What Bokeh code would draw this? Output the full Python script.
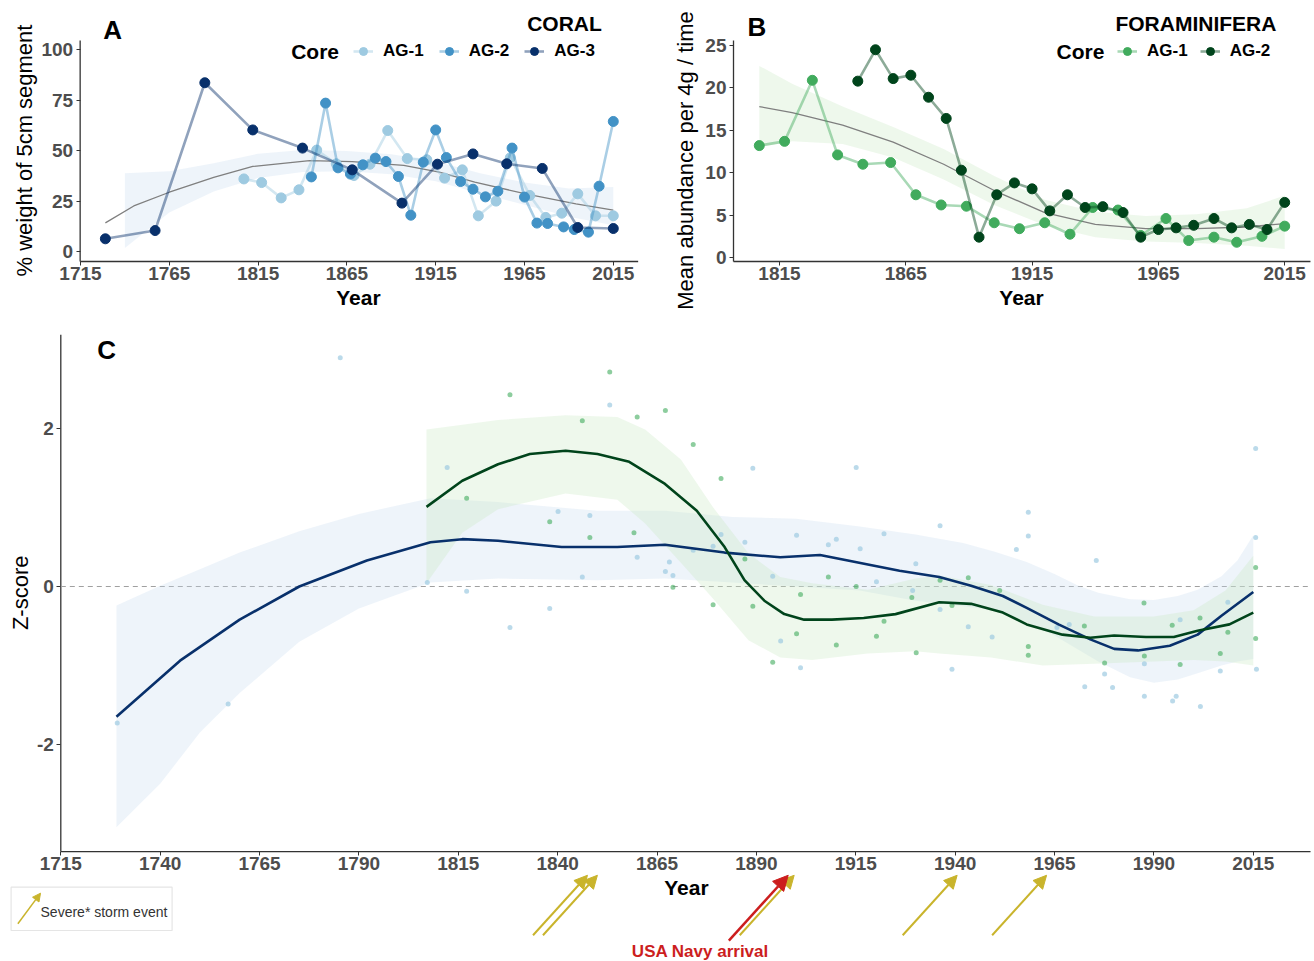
from bokeh.plotting import figure
from bokeh.layouts import column, row
from bokeh.models import Range1d, FixedTicker, Label, Arrow, NormalHead, BoxAnnotation
from bokeh.embed import file_html
from bokeh.resources import INLINE

FONT = "Liberation Sans"

# ---------------- Panel A: coral (% weight of 5cm segment) ----------------
a1_year = [1807, 1817, 1828, 1838, 1848, 1859, 1869, 1878, 1888, 1899, 1910, 1920, 1930, 1939, 1949, 1957, 1968, 1977, 1986, 1995, 2005, 2015]
a1_val = [36.0, 34.2, 26.6, 30.6, 50.3, 43.5, 37.7, 43.3, 60.0, 46.1, 45.5, 36.4, 40.5, 17.7, 25.0, 46.5, 27.8, 16.9, 19.0, 28.6, 17.7, 17.7]
a2_year = [1845, 1853, 1860, 1867, 1874, 1881, 1887, 1894, 1901, 1908, 1915, 1921, 1929, 1936, 1943, 1950, 1958, 1965, 1972, 1978, 1987, 1993, 2001, 2007, 2015]
a2_val = [37.0, 73.6, 41.5, 38.4, 43.0, 46.3, 44.6, 37.2, 18.0, 44.3, 60.3, 46.6, 34.7, 30.9, 27.1, 29.9, 51.3, 27.0, 14.1, 13.9, 12.2, 10.9, 9.6, 32.4, 64.5]
a3_year = [1729, 1757, 1785, 1812, 1840, 1868, 1896, 1916, 1936, 1955, 1975, 1995, 2015]
a3_val = [6.3, 10.4, 83.7, 60.3, 51.3, 40.5, 24.0, 43.3, 48.4, 43.5, 41.2, 11.9, 11.4]
a_fit_year = [1729, 1745, 1765, 1790, 1812, 1844, 1868, 1897, 1917, 1937, 1967, 1994, 2015]
a_fit_val = [14.2, 22.6, 29.4, 36.8, 42.2, 45.1, 44.6, 42.7, 39.4, 34.4, 28.3, 23.6, 20.5]
a_band_year = [1740, 1765, 1790, 1815, 1840, 1865, 1890, 1915, 1940, 1965, 1990, 2015]
a_band_lo = [1.8, 19.4, 29.8, 36.5, 39.4, 39.8, 38.3, 34.8, 28.8, 23.2, 17.2, 13.0]
a_band_hi = [38.8, 39.8, 43.8, 48.5, 50.4, 49.8, 48.3, 44.8, 38.8, 34.2, 31.2, 32.0]
a_xticks = [1715, 1765, 1815, 1865, 1915, 1965, 2015]
a_yticks = [0, 25, 50, 75, 100]

# ---------------- Panel B: foraminifera ----------------
b1_year = [1807, 1817, 1828, 1838, 1848, 1859, 1869, 1879, 1889, 1900, 1910, 1920, 1930, 1939, 1949, 1958, 1968, 1977, 1987, 1996, 2006, 2015]
b1_val = [13.2, 13.7, 20.9, 12.1, 11.0, 11.2, 7.4, 6.2, 6.05, 4.1, 3.4, 4.1, 2.75, 5.9, 5.6, 2.6, 4.6, 2.0, 2.4, 1.8, 2.5, 3.7]
b2_year = [1846, 1853, 1860, 1867, 1874, 1881, 1887, 1894, 1901, 1908, 1915, 1922, 1929, 1936, 1943, 1951, 1958, 1965, 1972, 1979, 1987, 1994, 2001, 2008, 2015]
b2_val = [20.8, 24.5, 21.1, 21.5, 18.9, 16.4, 10.3, 2.4, 7.4, 8.8, 8.1, 5.5, 7.4, 5.9, 6.0, 5.3, 2.4, 3.3, 3.5, 3.8, 4.6, 3.5, 3.9, 3.3, 6.5]
b_fit_year = [1807, 1820, 1840, 1860, 1880, 1900, 1920, 1940, 1960, 1980, 2000, 2015]
b_fit_val = [17.8, 17.1, 15.6, 13.6, 11.0, 7.9, 5.3, 3.9, 3.4, 3.4, 3.6, 4.0]
b_band_lo = [13.0, 13.7, 13.4, 11.8, 9.2, 6.2, 3.8, 2.4, 1.9, 1.7, 1.4, 1.0]
b_band_hi = [22.6, 20.5, 17.8, 15.4, 12.8, 9.6, 6.8, 5.4, 4.9, 5.1, 5.8, 7.3]
b_xticks = [1815, 1865, 1915, 1965, 2015]
b_yticks = [0, 5, 10, 15, 20, 25]

# ---------------- Panel C: Z-scores ----------------
cb_year = [1729.2, 1757.1, 1785.3, 1807.2, 1812.2, 1817.1, 1828, 1838, 1840.1, 1846.2, 1848.1, 1853.1, 1860, 1867.1, 1868.1,
           1869, 1874.1, 1879.1, 1881.1, 1887.1, 1889.1, 1894.1, 1896.1, 1900.1, 1901.1, 1908.1, 1910.1, 1915.1, 1916.1,
           1920.2, 1922.1, 1929.3, 1930.1, 1936.2, 1936.2, 1939.2, 1943.3, 1949.3, 1955.4, 1958.4, 1958.4, 1965.6, 1968.7,
           1972.6, 1975.5, 1977.6, 1979.6, 1987.6, 1987.6, 1994.7, 1995.6, 1996.6, 2001.7, 2006.7, 2008.6, 2015.6, 2015.6, 2015.8]
cb_z = [-1.73, -1.49, 2.90, 0.05, 1.51, -0.06, -0.52, -0.28, 0.95, 0.12, 0.90, 2.30, 0.37, 0.19, 0.31,
        0.14, 0.46, 0.51, 0.66, 0.56, 1.50, 0.13, -0.69, 0.65, -1.03, 0.53, 0.60, 1.51, 0.48,
        0.06, 0.67, -0.05, 0.29, 0.77, -0.29, -1.05, -0.51, -0.64, 0.47, 0.94, 0.64, -0.52, -0.48,
        -1.27, 0.33, -1.11, -1.28, -0.98, -1.39, -1.45, -1.39, -0.42, -1.52, -1.07, -0.20, 1.75, 0.62, -1.05]
cg_year = [1817.1, 1828, 1838, 1846.2, 1848.1, 1853.1, 1859.2, 1860, 1867.1, 1869, 1874.1, 1879.1, 1881.1, 1887.1,
           1889.1, 1894.1, 1900.1, 1901.1, 1908.1, 1910.1, 1915.1, 1920.2, 1922.1, 1929.1, 1930.2, 1936.2, 1939.2,
           1943.3, 1951.2, 1958.4, 1958.4, 1972.5, 1977.6, 1987.5, 1987.6, 1994.6, 1996.6, 2001.6, 2006.7, 2008.6, 2015.6, 2015.6]
cg_z = [1.12, 2.43, 0.82, 2.10, 0.62, 2.72, 0.68, 2.15, 2.23, -0.01, 1.80, -0.23, 1.37, 0.35,
        -0.25, -0.96, -0.60, -0.10, 0.12, -0.74, 0.00, -0.63, -0.44, -0.14, -0.84, 0.08, -0.24,
        0.11, -0.05, -0.76, -0.87, -0.50, -0.97, -0.21, -0.88, -0.49, -0.99, -0.40, -0.85, -0.58, 0.24, -0.66]
cb_fit_year = [1729, 1745, 1760, 1775, 1792, 1808, 1816, 1825, 1841, 1855, 1867, 1882, 1896, 1906, 1913, 1919, 1926, 1936,
               1944, 1952, 1958, 1966, 1974, 1980, 1986, 1994, 2001, 2007, 2015]
cb_fit = [-1.65, -0.94, -0.42, 0.0, 0.33, 0.56, 0.60, 0.58, 0.50, 0.50, 0.53, 0.43, 0.37, 0.40, 0.33, 0.27, 0.20, 0.12,
          0.01, -0.12, -0.27, -0.48, -0.67, -0.79, -0.81, -0.75, -0.61, -0.37, -0.07]
cb_band_year = [1729, 1740, 1750, 1760, 1775, 1790, 1808, 1825, 1850, 1867, 1884, 1900, 1916, 1930, 1942, 1950, 1958, 1965,
                1971, 1976, 1984, 1990, 1996, 2001, 2007, 2011, 2015]
cb_band_hi = [-0.24, 0.01, 0.22, 0.43, 0.70, 0.92, 1.12, 1.07, 0.96, 0.96, 0.88, 0.86, 0.76, 0.66, 0.55, 0.44, 0.31, 0.16,
              0.01, -0.08, -0.16, -0.17, -0.12, -0.04, 0.13, 0.33, 0.65]
cb_band_lo = [-3.05, -2.5, -1.85, -1.35, -0.7, -0.28, 0.05, 0.10, 0.08, 0.10, 0.05, 0.0, -0.05, -0.18, -0.25, -0.30, -0.45,
              -0.62, -0.80, -0.95, -1.15, -1.22, -1.18, -1.10, -1.00, -0.95, -0.92]
cg_fit_year = [1807, 1816, 1825, 1833, 1842, 1850, 1858, 1867, 1875, 1882, 1887, 1892, 1897, 1902, 1909, 1917, 1925, 1936,
               1944, 1952, 1958, 1967, 1974, 1980, 1988, 1995, 2001, 2009, 2015]
cg_fit = [1.01, 1.34, 1.55, 1.68, 1.72, 1.68, 1.58, 1.30, 0.96, 0.50, 0.08, -0.18, -0.35, -0.42, -0.42, -0.40, -0.35, -0.20,
          -0.22, -0.33, -0.48, -0.61, -0.65, -0.62, -0.64, -0.64, -0.56, -0.48, -0.33]
cg_band_year = [1807, 1816, 1825, 1842, 1855, 1862, 1871, 1879, 1888, 1896, 1904, 1918, 1930, 1936, 1949, 1962, 1975, 1990,
                2000, 2008, 2015]
cg_band_hi = [1.99, 2.05, 2.11, 2.17, 2.15, 1.99, 1.61, 1.01, 0.42, 0.12, 0.04, -0.04, 0.10, 0.14, 0.02, -0.23, -0.38, -0.38,
              -0.30, -0.05, 0.39]
cg_band_lo = [0.04, 0.68, 0.98, 1.18, 1.10, 0.80, 0.30, -0.15, -0.68, -0.90, -0.93, -0.85, -0.82, -0.85, -0.90, -1.00, -0.98,
              -0.95, -0.93, -0.95, -1.00]
c_xticks = [1715, 1740, 1765, 1790, 1815, 1840, 1865, 1890, 1915, 1940, 1965, 1990, 2015]
c_yticks = [-2, 0, 2]
storm_years = [1847.5, 1850.0, 1899.5, 1940.5, 1963.0]
navy_years = [1898.0]

AXIS_COL = "#333333"
TICK_LAB = "#4D4D4D"
YEL = "#C9B42C"
RED = "#CC1E1E"


def style(p, xticks, yticks, x_at, y_at, x_end, y_end):
    """Axes drawn at fixed data locations; the frame fills the whole figure."""
    p.grid.visible = False
    p.outline_line_color = None
    for ax, ticks in ((p.xaxis[0], xticks), (p.yaxis[0], yticks)):
        ax.ticker = FixedTicker(ticks=ticks)
        ax.major_label_text_font = FONT
        ax.major_label_text_font_size = "19px"
        ax.major_label_text_font_style = "bold"
        ax.major_label_text_color = TICK_LAB
        ax.major_tick_out = 4
        ax.major_tick_in = 0
        ax.minor_tick_out = 0
        ax.minor_tick_in = 0
        ax.major_tick_line_color = AXIS_COL
        ax.axis_line_color = None
    p.xaxis[0].major_label_standoff = 1
    p.yaxis[0].major_label_standoff = 3
    p.xaxis[0].fixed_location = y_at
    p.yaxis[0].fixed_location = x_at
    p.yaxis[0].major_label_overrides = {t: str(t) for t in yticks}
    p.segment(x0=[x_at], y0=[y_at], x1=[x_end], y1=[y_at], line_color=AXIS_COL, line_width=1.3)
    p.segment(x0=[x_at], y0=[y_at], x1=[x_at], y1=[y_end], line_color=AXIS_COL, line_width=1.3)


def text(p, x, y, s, size, bold=True, color="black", align="left", baseline="middle", angle=0):
    p.add_layout(Label(x=x, y=y, text=s, text_font=FONT, text_font_size=size,
                       text_font_style="bold" if bold else "normal", text_color=color,
                       text_align=align, text_baseline=baseline, angle=angle, angle_units="deg"))


def legend_style(p, loc, spacing):
    lg = p.legend[0]
    lg.location = loc
    lg.orientation = "horizontal"
    lg.label_text_font = FONT
    lg.label_text_font_size = "17px"
    lg.label_text_font_style = "bold"
    lg.label_text_color = "black"
    lg.glyph_width = 20
    lg.glyph_height = 20
    lg.label_height = 20
    lg.label_standoff = 10
    lg.spacing = spacing
    lg.padding = 0
    lg.margin = 0
    lg.background_fill_alpha = 0
    lg.border_line_color = None


TOP_H = 318

# ---------- A ----------
pA = figure(width=650, height=TOP_H, x_range=Range1d(1669.95, 2035.95), y_range=Range1d(-33.23, 124.5),
            output_backend="svg", toolbar_location=None, min_border=0)
pA.varea(x=a_band_year, y1=a_band_lo, y2=a_band_hi, fill_color="#C6DBEF", fill_alpha=0.3)
pA.line(a_fit_year, a_fit_val, line_color="#7F7F7F", line_width=1.3)
for name, yrs, vals, col in (("AG-1", a1_year, a1_val, "#9ECAE1"),
                             ("AG-2", a2_year, a2_val, "#4292C6"),
                             ("AG-3", a3_year, a3_val, "#08306B")):
    pA.line(yrs, vals, line_color=col, line_alpha=0.45, line_width=2.6, legend_label=name)
    pA.scatter(yrs, vals, size=10, fill_color=col, line_color=col, legend_label=name)
style(pA, a_xticks, a_yticks, 1714.8, -4.96, 2029.0, 104.7)
legend_style(pA, (353, 257), 15)
text(pA, 1727.75, 110.1, "A", "26px")
text(pA, 1966.5, 112.85, "CORAL", "21px")
text(pA, 1833.6, 99.2, "Core", "21px")
text(pA, 1683.5, 50.1, "% weight of 5cm segment", "22px", bold=False, align="center", angle=90)
text(pA, 1871.5, -22.8, "Year", "21px", align="center")

# ---------- B ----------
pB = figure(width=664, height=TOP_H, x_range=Range1d(1763.93, 2026.8), y_range=Range1d(-7.19, 30.31),
            output_backend="svg", toolbar_location=None, min_border=0)
pB.varea(x=b_fit_year, y1=b_band_lo, y2=b_band_hi, fill_color="#C7E9C0", fill_alpha=0.3)
pB.line(b_fit_year, b_fit_val, line_color="#7F7F7F", line_width=1.3)
for name, yrs, vals, col in (("AG-1", b1_year, b1_val, "#41AB5D"),
                             ("AG-2", b2_year, b2_val, "#00441B")):
    pB.line(yrs, vals, line_color=col, line_alpha=0.45, line_width=2.6, legend_label=name)
    pB.scatter(yrs, vals, size=10, fill_color=col, line_color=col, legend_label=name)
style(pB, b_xticks, b_yticks, 1796.79, -0.47, 2025.2, 25.59)
legend_style(pB, (467, 257), 12)
text(pB, 1802.3, 27.18, "B", "26px")
text(pB, 1948.0, 27.65, "FORAMINIFERA", "21px")
text(pB, 1924.7, 24.29, "Core", "21px")
text(pB, 1777.8, 11.44, "Mean abundance per 4g / time", "22px", bold=False, align="center", angle=90)
text(pB, 1910.8, -4.72, "Year", "21px", align="center")

# ---------- C ----------
C_X0, C_X1 = 1699.83, 2030.4
pC = figure(width=1314, height=961 - TOP_H, x_range=Range1d(C_X0, C_X1), y_range=Range1d(-4.753, 3.397),
            output_backend="svg", toolbar_location=None, min_border=0)
style(pC, c_xticks, c_yticks, 1715, -3.36, 2029.4, 3.19)
pC.segment(x0=[1715], y0=[0], x1=[2029.4], y1=[0], line_color="#A0A0A0", line_width=1.2, line_dash="5 4")

pC.varea(x=cb_band_year, y1=cb_band_lo, y2=cb_band_hi, fill_color="#C6DBEF", fill_alpha=0.3)
pC.varea(x=cg_band_year, y1=cg_band_lo, y2=cg_band_hi, fill_color="#C7E9C0", fill_alpha=0.3)
pC.scatter(cb_year, cb_z, size=5, fill_color="#9ECAE1", line_color=None, fill_alpha=0.7)
pC.scatter(cg_year, cg_z, size=5, fill_color="#41AB5D", line_color=None, fill_alpha=0.6)
pC.line(cb_fit_year, cb_fit, line_color="#08306B", line_width=2.6)
pC.line(cg_fit_year, cg_fit, line_color="#00441B", line_width=2.6)

TIP_Z, DX, DZ = -3.66, -13.7, -0.76
for yr in storm_years:
    pC.add_layout(Arrow(end=NormalHead(size=13, fill_color=YEL, line_color=YEL),
                        x_start=yr + DX, y_start=TIP_Z + DZ, x_end=yr, y_end=TIP_Z,
                        line_color=YEL, line_width=2))
for yr in navy_years:
    pC.add_layout(Arrow(end=NormalHead(size=15, fill_color=RED, line_color=RED),
                        x_start=yr + DX * 1.09, y_start=TIP_Z + DZ * 1.09, x_end=yr, y_end=TIP_Z,
                        line_color=RED, line_width=2.5))

text(pC, 1724.2, 3.004, "C", "26px")
text(pC, 1704.9, -0.08, "Z-score", "22px", bold=False, align="center", angle=90)
text(pC, 1872.4, -3.815, "Year", "21px", align="center")
text(pC, 1875.9, -4.62, "USA Navy arrival", "17px", color=RED, align="center")

pC.add_layout(BoxAnnotation(left=1702.5, right=1743.0, top=-3.811, bottom=-4.36,
                            fill_alpha=0, line_color="#AAAAAA", line_width=1.2))
pC.add_layout(Arrow(end=NormalHead(size=8, fill_color=YEL, line_color=YEL),
                    x_start=1704.2, y_start=-4.275, x_end=1709.9, y_end=-3.887,
                    line_color=YEL, line_width=1.5))
text(pC, 1709.9, -4.12, "Severe* storm event", "14px", bold=False, color="#333333")

layout = column(row(pA, pB), pC)
open("out.html", "w").write(file_html(layout, INLINE))
